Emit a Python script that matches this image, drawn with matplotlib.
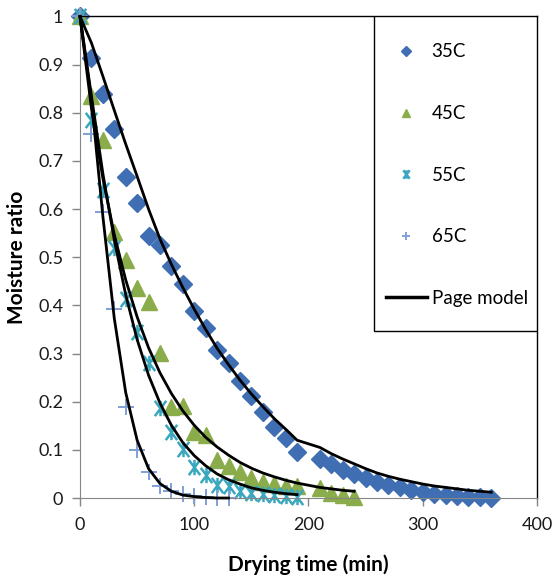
import numpy as np
import matplotlib
matplotlib.use("Agg")
import matplotlib.pyplot as plt
from matplotlib.path import Path
from matplotlib.lines import Line2D
from matplotlib.patches import Rectangle

plt.rcParams['font.family'] = ['Lato', 'DejaVu Sans']

# Drying runs: time (min) and measured moisture ratio
time_35 = [0, 10, 20, 30, 40, 50, 60, 70, 80, 90, 100, 110, 120, 130, 140, 150, 160, 170, 180, 190,
           210, 220, 230, 240, 250, 260, 270, 280, 290, 300, 310, 320, 330, 340, 350, 360]
mr_35 = [1.0, 0.913, 0.84, 0.767, 0.667, 0.613, 0.545, 0.526, 0.482, 0.445, 0.389, 0.353, 0.308, 0.28,
         0.243, 0.212, 0.179, 0.148, 0.125, 0.096,
         0.081, 0.071, 0.058, 0.049, 0.041, 0.034, 0.028, 0.022, 0.017, 0.013, 0.009, 0.007, 0.005,
         0.003, 0.003, 0.001]
page_35 = [1.0, 0.945, 0.876, 0.805, 0.735, 0.668, 0.600, 0.538, 0.485, 0.437, 0.392, 0.350, 0.311,
           0.277, 0.245, 0.216, 0.190, 0.165, 0.143, 0.12,
           0.105, 0.092, 0.081, 0.071, 0.061, 0.052, 0.045, 0.039, 0.034, 0.029, 0.025, 0.022, 0.019,
           0.016, 0.014, 0.012]

time_45 = [0, 10, 20, 30, 40, 50, 60, 70, 80, 90, 100, 110, 120, 130, 140, 150, 160, 170, 180, 190,
           210, 220, 230, 240]
mr_45 = [1.0, 0.834, 0.744, 0.552, 0.495, 0.436, 0.408, 0.302, 0.189, 0.192, 0.138, 0.131, 0.079,
         0.067, 0.055, 0.041, 0.034, 0.029, 0.025, 0.025, 0.020, 0.010, 0.006, 0.003]
page_45 = [1.0, 0.809, 0.664, 0.547, 0.453, 0.376, 0.312, 0.260, 0.217, 0.181, 0.151, 0.126, 0.106,
           0.089, 0.074, 0.062, 0.052, 0.044, 0.037, 0.031, 0.022, 0.019, 0.016, 0.014]

time_55 = [0, 10, 20, 30, 40, 50, 60, 70, 80, 90, 100, 110, 120, 130, 140, 150, 160, 170, 180, 190]
mr_55 = [1.0, 0.786, 0.640, 0.519, 0.413, 0.344, 0.280, 0.186, 0.138, 0.101, 0.065, 0.048, 0.028,
         0.024, 0.015, 0.011, 0.008, 0.006, 0.004, 0.003]
page_55 = [1.0, 0.835, 0.674, 0.536, 0.422, 0.329, 0.255, 0.197, 0.151, 0.115, 0.088, 0.067, 0.050,
           0.038, 0.029, 0.021, 0.016, 0.012, 0.009, 0.007]

time_65 = [0, 10, 20, 30, 40, 50, 60, 70, 80, 90, 100, 110, 120, 130]
mr_65 = [1.0, 0.755, 0.593, 0.393, 0.19, 0.10, 0.055, 0.025, 0.015, 0.008, 0.004, 0.003, 0.001, 0.001]
page_65 = [1.0, 0.827, 0.585, 0.373, 0.219, 0.120, 0.061, 0.030, 0.014, 0.006, 0.003, 0.001, 0.0, 0.0]

labels = ["35C", "45C", "55C", "65C"]

# Excel-style star: an X with a vertical bar through it
star = Path([(-0.75, -1), (0.75, 1), (-0.75, 1), (0.75, -1), (0, -1), (0, 1)],
            [Path.MOVETO, Path.LINETO, Path.MOVETO, Path.LINETO, Path.MOVETO, Path.LINETO])

styles = [
    dict(marker="D", color="#3F6FB2", markersize=9, linestyle="none"),
    dict(marker="^", color="#8BAC4A", markersize=11, linestyle="none"),
    dict(marker=star, color="#3AA7BF", markersize=11, markerfacecolor="none",
         markeredgewidth=1.8, linestyle="none"),
    dict(marker="+", color="#7F9FD6", markersize=11, markeredgewidth=1.4, linestyle="none"),
]

fig = plt.figure(figsize=(5.53, 5.78), dpi=100)
ax = fig.add_axes([0.1447, 0.1384, 0.8263, 0.8331])

runs = [(time_35, mr_35, page_35), (time_45, mr_45, page_45),
        (time_55, mr_55, page_55), (time_65, mr_65, page_65)]
for (t, mr, pg), st in zip(runs, styles):
    ax.plot(t, mr, zorder=2, clip_on=False, **st)
for t, mr, pg in runs:
    ax.plot(t, pg, color="black", linewidth=2.0, zorder=3, clip_on=False)

ax.set_xlim(0, 400)
ax.set_ylim(0, 1)
ax.set_xticks([0, 100, 200, 300, 400])
ax.set_yticks(np.arange(0, 1.01, 0.1))
ax.set_yticklabels(["0", "0.1", "0.2", "0.3", "0.4", "0.5", "0.6", "0.7", "0.8", "0.9", "1"])
ax.tick_params(axis="both", labelsize=13, color="#868686", length=6, width=1, pad=6,
               labelcolor="#1a1a1a")
ax.tick_params(axis="x", pad=8)

for side in ("left", "bottom"):
    ax.spines[side].set_color("#868686")
for side in ("top", "right"):
    ax.spines[side].set_color("black")
    ax.spines[side].set_linewidth(1.0)

ax.set_xlabel("Drying time (min)", fontsize=15, fontweight="bold")
ax.set_ylabel("Moisture ratio", fontsize=15, fontweight="bold")
ax.xaxis.set_label_coords(0.5, -0.118)
ax.yaxis.set_label_coords(-0.116, 0.5)

# legend box in the upper right corner
ax.add_patch(Rectangle((0.643, 0.347), 0.357, 0.653, transform=ax.transAxes,
                       facecolor="white", edgecolor="black", linewidth=1.0, zorder=5))
handles = [Line2D([], [], **st) for st in styles]
handles.append(Line2D([], [], color="black", linewidth=2.5))
leg = ax.legend(handles, labels + ["Page model"], loc="upper left",
                bbox_to_anchor=(0.669, 0.944), frameon=False, fontsize=13.5,
                markerscale=0.55, handlelength=2.2, handletextpad=0.25,
                labelspacing=2.38, borderpad=0, borderaxespad=0)
leg.set_zorder(6)

plt.savefig("out.png", dpi=100)
